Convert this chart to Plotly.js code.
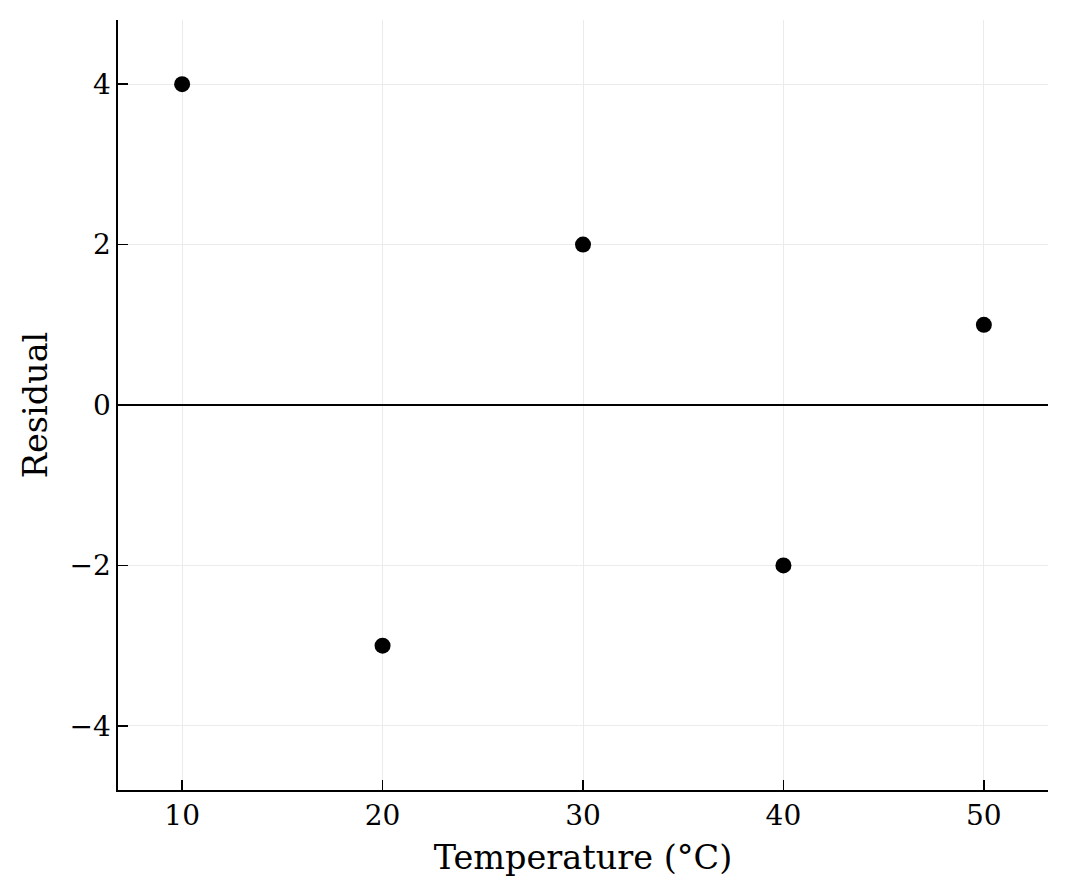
<!DOCTYPE html>
<html><head><meta charset="utf-8">
<script src="https://cdn.plot.ly/plotly-3.0.1.min.js"></script>
<style>html,body{margin:0;padding:0;background:#fff;}#chart{width:1067px;height:894px;}</style>
</head><body><div id="chart"></div>
<script>
var temperature = [10, 20, 30, 40, 50];
var residual = [4, -3, 2, -2, 1];
var xTicks = [10, 20, 30, 40, 50];
var yTicks = [-4, -2, 0, 2, 4];

var font = 'DejaVu Serif, serif';
var trace = {
  x: temperature, y: residual, type: 'scatter', mode: 'markers',
  marker: {color: '#000000', size: 16}, showlegend: false, hoverinfo: 'none'
};
var layout = {
  width: 1067, height: 894,
  margin: {l: 118, r: 19, t: 20, b: 104},
  paper_bgcolor: '#ffffff', plot_bgcolor: '#ffffff',
  font: {family: font, color: '#000000', size: 28},
  xaxis: {
    range: [6.8, 53.2], tickvals: xTicks, ticktext: xTicks.map(String),
    ticks: 'inside', ticklen: 10, tickwidth: 1.6, tickcolor: '#000',
    showline: true, linecolor: '#000', linewidth: 1.6, mirror: false,
    showgrid: true, gridcolor: '#ebebeb', gridwidth: 1, zeroline: false,
    tickfont: {family: font, size: 28},
    title: {text: 'Temperature (°C)', font: {family: font, size: 33.5}, standoff: 14}
  },
  yaxis: {
    range: [-4.8, 4.8], tickvals: yTicks, ticktext: yTicks.map(function(v){return v<0?'\u2212'+Math.abs(v):String(v);}),
    ticks: 'inside', ticklen: 10, tickwidth: 1.6, tickcolor: '#000',
    showline: true, linecolor: '#000', linewidth: 1.6, mirror: false,
    showgrid: true, gridcolor: '#ebebeb', gridwidth: 1, zeroline: false,
    tickfont: {family: font, size: 28},
    title: {text: 'Residual', font: {family: font, size: 33.5}, standoff: 12}
  },
  shapes: [{type: 'line', xref: 'paper', x0: 0, x1: 1, yref: 'y', y0: 0, y1: 0,
            line: {color: '#000', width: 2}, layer: 'above'}]
};
Plotly.newPlot('chart', [trace], layout, {displayModeBar: false, staticPlot: true});
</script></body></html>
